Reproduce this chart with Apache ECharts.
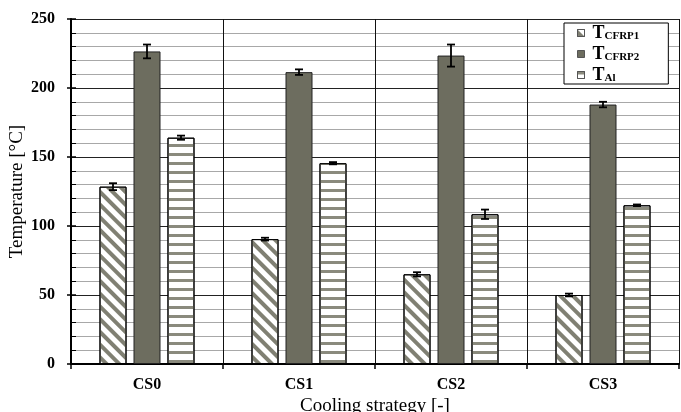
<!DOCTYPE html>
<html>
<head>
<meta charset="utf-8">
<script src="https://cdn.jsdelivr.net/npm/echarts@6/dist/echarts.min.js"></script>
<style>
  html, body { margin: 0; padding: 0; background: #fff; }
  #chart { width: 681px; height: 412px; }
</style>
</head>
<body>
<div id="chart"></div>
<script>
// data
const categories = ['CS0', 'CS1', 'CS2', 'CS3'];
const seriesNames = ['T_CFRP1', 'T_CFRP2', 'T_Al'];
const tCFRP1 = [128.5, 90.5, 65, 50];
const tCFRP2 = [226.5, 211.5, 223.5, 188];
const tAl = [164, 145.5, 108.5, 115];
const errCFRP1 = [2.5, 1, 1.5, 1];
const errCFRP2 = [5, 2, 8, 2];
const errAl = [1.5, 0.8, 3.4, 0.6];
const yTicks = [0, 50, 100, 150, 200, 250];

const SERIF = '"Liberation Serif", "DejaVu Serif", serif';
const DARK = '#6d6d5f';
const STRIPE = '#808073';
const BAR_W = 27;
const BAR_GAP = 7;

const chart = echarts.init(document.getElementById('chart'), null, { renderer: 'canvas' });

const values = [tCFRP1, tCFRP2, tAl];
const errors = [errCFRP1, errCFRP2, errAl];

const decals = [
  { symbol: 'rect', symbolSize: 1, dashArrayX: [1, 0], dashArrayY: [4, 5], rotation: Math.PI / 4, color: STRIPE },
  null,
  { symbol: 'rect', symbolSize: 1, dashArrayX: [1, 0], dashArrayY: [2.2, 5.2], rotation: 0, color: '#8a8a7d' }
];
const styles = [
  { color: '#fff', borderColor: '#000', borderWidth: 1, decal: decals[0] },
  { color: DARK, borderColor: '#222', borderWidth: 1 },
  { color: '#fff', borderColor: '#000', borderWidth: 1, decal: decals[2] }
];

const barSeries = seriesNames.map((name, i) => ({
  name: name,
  type: 'bar',
  data: values[i],
  barWidth: BAR_W,
  barGap: (BAR_GAP / BAR_W * 100).toFixed(1) + '%',
  itemStyle: styles[i],
  emphasis: { disabled: true },
  z: 3
}));

const errSeries = seriesNames.map((name, i) => ({
  type: 'custom',
  data: categories.map((c, k) => [k, values[i][k] - errors[i][k], values[i][k] + errors[i][k]]),
  z: 5,
  silent: true,
  renderItem: function (params, api) {
    const off = (i - 1) * (BAR_W + BAR_GAP);
    const lo = api.coord([api.value(0), api.value(1)]);
    const hi = api.coord([api.value(0), api.value(2)]);
    const x = lo[0] + off;
    const cap = 4;
    const st = { stroke: '#000', lineWidth: 1.8 };
    return {
      type: 'group',
      children: [
        { type: 'line', shape: { x1: x, y1: lo[1], x2: x, y2: hi[1] }, style: st },
        { type: 'line', shape: { x1: x - cap, y1: lo[1], x2: x + cap, y2: lo[1] }, style: st },
        { type: 'line', shape: { x1: x - cap, y1: hi[1], x2: x + cap, y2: hi[1] }, style: st }
      ]
    };
  }
}));

const option = {
  animation: false,
  backgroundColor: '#fff',
  grid: { left: 71, right: 2, top: 19, bottom: 48, containLabel: false, outerBoundsMode: 'none' },
  legend: {
    orient: 'vertical',
    left: 564,
    top: 23,
    data: seriesNames.map((n, i) => ({
      name: n,
      itemStyle: { borderColor: '#555', borderWidth: 1, decal: decals[i] || 'none' }
    })),
    icon: 'rect',
    itemWidth: 7,
    itemHeight: 7,
    itemGap: 3,
    padding: [1, 29, 0, 13],
    backgroundColor: '#fff',
    borderColor: '#000',
    borderWidth: 1,
    borderRadius: 0,
    formatter: function (name) {
      const p = name.split('_');
      return '{t|' + p[0] + '}{s|' + p[1] + '}';
    },
    textStyle: {
      rich: {
        t: { fontFamily: SERIF, fontSize: 18, fontWeight: 'bold', color: '#000', lineHeight: 17, padding: [0, 0, 0, 3] },
        s: { fontFamily: SERIF, fontSize: 11, fontWeight: 'bold', color: '#000', padding: [7, 0, 0, 0], lineHeight: 10 }
      }
    }
  },
  xAxis: {
    type: 'category',
    data: categories,
    name: 'Cooling strategy [-]',
    nameLocation: 'middle',
    nameGap: 33,
    nameMoveOverlap: false,
    nameTextStyle: { fontFamily: SERIF, fontSize: 19, color: '#000' },
    axisLine: { lineStyle: { color: '#000', width: 2 } },
    axisTick: { show: true, length: 5, lineStyle: { color: '#000', width: 1.5 } },
    axisLabel: { fontFamily: SERIF, fontSize: 16, fontWeight: 'bold', color: '#000', margin: 13 },
    splitLine: { show: true, lineStyle: { color: '#111', width: 1 } }
  },
  yAxis: [{
    type: 'value',
    min: yTicks[0],
    max: yTicks[yTicks.length - 1],
    interval: yTicks[1] - yTicks[0],
    name: 'Temperature [°C]',
    nameLocation: 'middle',
    nameGap: 44,
    nameRotate: 90,
    nameMoveOverlap: false,
    nameTextStyle: { fontFamily: SERIF, fontSize: 19, color: '#000' },
    axisLine: { show: true, lineStyle: { color: '#000', width: 2 } },
    axisTick: { show: true, inside: true, length: 5, lineStyle: { color: '#000', width: 1.5 } },
    minorTick: { show: true, splitNumber: 5, length: 5, lineStyle: { color: '#000', width: 1 } },
    axisLabel: { fontFamily: SERIF, fontSize: 16, fontWeight: 'bold', color: '#000', margin: 16 },
    splitLine: { show: true, lineStyle: { color: '#222', width: 1 } },
    minorSplitLine: { show: true, lineStyle: { color: '#a8a8a8', width: 1.2 } }
  }, {
    // outer half of the crossing major ticks
    type: 'value',
    position: 'left',
    min: yTicks[0],
    max: yTicks[yTicks.length - 1],
    interval: yTicks[1] - yTicks[0],
    axisLine: { show: false },
    axisTick: { show: true, length: 4, lineStyle: { color: '#000', width: 1.5 } },
    axisLabel: { show: false },
    splitLine: { show: false }
  }],
  series: barSeries.concat(errSeries)
};

chart.setOption(option);
</script>
</body>
</html>
